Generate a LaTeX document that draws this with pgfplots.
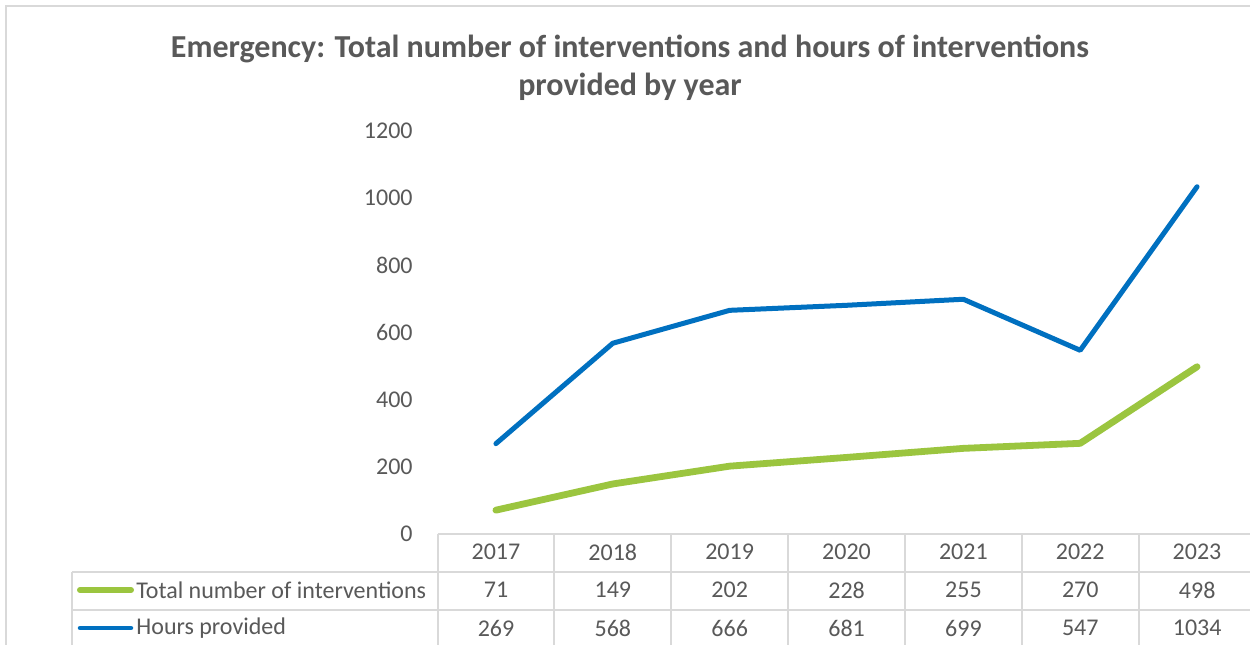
\documentclass[border=0pt]{standalone}
\usepackage{pgfplots}
\pgfplotsset{compat=1.18}
\usepackage{fontspec}
\setmainfont{Carlito}
\definecolor{txt}{HTML}{595959}
\definecolor{gridc}{HTML}{D9D9D9}
\definecolor{myblue}{HTML}{0070C0}
\definecolor{mygreen}{HTML}{9BC53F}
\begin{document}
\begin{tikzpicture}[x=0.5pt,y=0.5pt]
\useasboundingbox (0,0) rectangle (1250,644);
\clip (0,0) rectangle (1250,644);
\fill[white] (0,0) rectangle (1250,644);
\draw[gridc, line width=0.75pt] (6,-10) -- (6,638) -- (1260,638);
\node[txt, font=\fontsize{16}{19}\selectfont\bfseries] at (630,595) {Emergency: Total number of interventions and hours of interventions};
\node[txt, font=\fontsize{16}{19}\selectfont\bfseries] at (630,557) {provided by year};
\begin{axis}[at={(218.75pt,55pt)}, anchor=south west, scale only axis,
  width=409pt, height=201.5pt,
  xmin=-0.5, xmax=6.5, ymin=0, ymax=1200,
  ytick={0,200,...,1200},
  xtick={0,...,6}, xticklabels={2017,2018,2019,2020,2021,2022,2023},
  axis line style={draw=none}, major tick length=0pt,
  tick label style={font=\fontsize{12}{14}\selectfont, text=txt},
  /pgf/number format/assume math mode=true,
  /pgf/number format/1000 sep={},
  yticklabel style={anchor=east, inner sep=0pt, xshift=-12.25pt},
  xticklabel style={anchor=center, inner sep=0pt, yshift=-9pt},
  clip=false]
\addplot[mygreen, line width=3.4pt, line cap=round, line join=round] coordinates {(0,71)(1,149)(2,202)(3,228)(4,255)(5,270)(6,498)};
\addplot[myblue, line width=2.5pt, line cap=round, line join=round] coordinates {(0,269)(1,568)(2,666)(3,681)(4,699)(5,547)(6,1034)};
\end{axis}
\begin{scope}[gridc, line width=1pt]
\draw (437.5,110) -- (1260,110);
\draw (72,72) -- (1260,72);
\draw (72,34) -- (1260,34);
\draw (72,-4) -- (1260,-4);
\draw (72,-10) -- (72,72);
\foreach \i in {0,...,6} { \draw (437.5+116.86*\i,-10) -- (437.5+116.86*\i,110); }
\end{scope}
\draw[mygreen, line width=3pt, line cap=round] (80,54) -- (131,54);
\draw[myblue, line width=2.25pt, line cap=round] (80,16) -- (131,16);
\node[anchor=west, inner sep=0pt, txt, font=\fontsize{12}{14}\selectfont] at (136,54) {Total number of interventions};
\node[anchor=west, inner sep=0pt, txt, font=\fontsize{12}{14}\selectfont] at (136,16) {Hours provided};
\foreach \v [count=\i from 0] in {71,149,202,228,255,270,498} { \node[txt, font=\fontsize{12}{14}\selectfont] at (496+116.86*\i,54) {\v}; }
\foreach \v [count=\i from 0] in {269,568,666,681,699,547,1034} { \node[txt, font=\fontsize{12}{14}\selectfont] at (496+116.86*\i,16) {\v}; }
\end{tikzpicture}
\end{document}
